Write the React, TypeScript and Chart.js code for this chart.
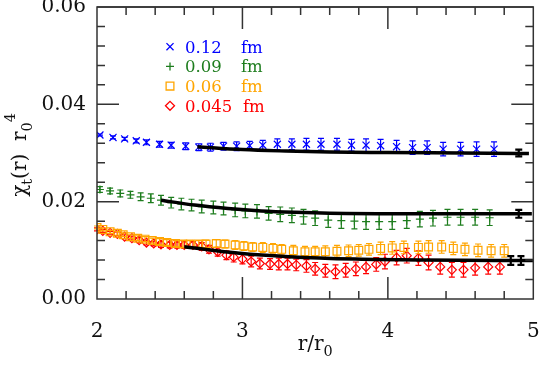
import React, { useEffect, useRef } from 'react';
import { Chart, registerables } from 'chart.js';

Chart.register(...registerables);

// ---------- data ----------
const blueX = [2.02, 2.11, 2.19, 2.27, 2.34, 2.43, 2.51, 2.61, 2.70, 2.78, 2.87, 2.96, 3.05, 3.14, 3.24, 3.34, 3.44, 3.54, 3.65, 3.75, 3.85, 3.95, 4.06, 4.17, 4.27, 4.38, 4.50, 4.61, 4.73];
const blueY = [0.0337, 0.0332, 0.0329, 0.0325, 0.0322, 0.0318, 0.0316, 0.0314, 0.0312, 0.0312, 0.0314, 0.0314, 0.0315, 0.0316, 0.0318, 0.0318, 0.0318, 0.0318, 0.0318, 0.0316, 0.0316, 0.0315, 0.0313, 0.0311, 0.0311, 0.0308, 0.0308, 0.0308, 0.0308];
const blueErr = [0.0002, 0.0003, 0.0003, 0.0004, 0.0005, 0.0006, 0.0006, 0.0007, 0.0007, 0.0008, 0.0008, 0.0009, 0.0009, 0.0010, 0.0011, 0.0011, 0.0012, 0.0012, 0.0012, 0.0012, 0.0013, 0.0013, 0.0013, 0.0014, 0.0014, 0.0014, 0.0014, 0.0015, 0.0015];

const greenX = [2.02, 2.09, 2.16, 2.23, 2.30, 2.37, 2.44, 2.51, 2.58, 2.65, 2.72, 2.80, 2.87, 2.95, 3.02, 3.10, 3.18, 3.26, 3.34, 3.42, 3.50, 3.59, 3.68, 3.77, 3.85, 3.94, 4.03, 4.13, 4.22, 4.31, 4.41, 4.50, 4.60, 4.70];
const greenY = [0.0225, 0.0222, 0.0217, 0.0214, 0.0210, 0.0207, 0.0203, 0.0198, 0.0195, 0.0193, 0.0190, 0.0188, 0.0186, 0.0183, 0.0181, 0.0180, 0.0176, 0.0174, 0.0172, 0.0169, 0.0166, 0.0162, 0.0161, 0.0160, 0.0159, 0.0159, 0.0159, 0.0161, 0.0164, 0.0166, 0.0168, 0.0168, 0.0168, 0.0167];
const greenErr = [0.0006, 0.0006, 0.0007, 0.0007, 0.0008, 0.0009, 0.0010, 0.0011, 0.0012, 0.0012, 0.0013, 0.0013, 0.0013, 0.0014, 0.0014, 0.0014, 0.0014, 0.0015, 0.0015, 0.0015, 0.0015, 0.0015, 0.0016, 0.0016, 0.0016, 0.0016, 0.0016, 0.0016, 0.0016, 0.0016, 0.0016, 0.0016, 0.0016, 0.0016];

const orangeX = [2.00, 2.04, 2.09, 2.14, 2.18, 2.23, 2.28, 2.33, 2.38, 2.43, 2.48, 2.54, 2.59, 2.64, 2.70, 2.75, 2.82, 2.88, 2.95, 3.01, 3.07, 3.14, 3.21, 3.27, 3.35, 3.43, 3.50, 3.57, 3.65, 3.73, 3.80, 3.87, 3.95, 4.03, 4.11, 4.21, 4.28, 4.37, 4.45, 4.53, 4.62, 4.71, 4.80];
const orangeY = [0.0147, 0.0143, 0.0138, 0.0135, 0.0132, 0.0128, 0.0125, 0.0123, 0.0120, 0.0118, 0.0116, 0.0114, 0.0113, 0.0113, 0.0113, 0.0113, 0.0114, 0.0113, 0.0111, 0.0109, 0.0107, 0.0106, 0.0104, 0.0102, 0.0099, 0.0097, 0.0097, 0.0097, 0.0098, 0.0099, 0.0100, 0.0102, 0.0104, 0.0105, 0.0106, 0.0106, 0.0107, 0.0107, 0.0104, 0.0102, 0.0100, 0.0099, 0.0099];
const orangeErr = [0.0003, 0.0003, 0.0003, 0.0004, 0.0004, 0.0004, 0.0005, 0.0005, 0.0005, 0.0006, 0.0006, 0.0006, 0.0007, 0.0007, 0.0007, 0.0008, 0.0008, 0.0008, 0.0009, 0.0009, 0.0009, 0.0010, 0.0010, 0.0010, 0.0011, 0.0011, 0.0011, 0.0012, 0.0012, 0.0012, 0.0012, 0.0012, 0.0013, 0.0013, 0.0013, 0.0013, 0.0013, 0.0013, 0.0013, 0.0013, 0.0013, 0.0013, 0.0013];

const redX = [2.00, 2.04, 2.09, 2.14, 2.19, 2.24, 2.29, 2.34, 2.39, 2.44, 2.50, 2.55, 2.60, 2.66, 2.72, 2.77, 2.83, 2.89, 2.94, 3.00, 3.06, 3.12, 3.19, 3.25, 3.31, 3.37, 3.44, 3.50, 3.57, 3.64, 3.71, 3.78, 3.85, 3.92, 3.98, 4.06, 4.13, 4.21, 4.28, 4.36, 4.44, 4.52, 4.60, 4.69, 4.77];
const redY = [0.0143, 0.0140, 0.0136, 0.0134, 0.0128, 0.0125, 0.0121, 0.0116, 0.0114, 0.0112, 0.0111, 0.0111, 0.0111, 0.0111, 0.0108, 0.0102, 0.0097, 0.0090, 0.0086, 0.0082, 0.0077, 0.0073, 0.0072, 0.0072, 0.0072, 0.0070, 0.0068, 0.0062, 0.0058, 0.0056, 0.0059, 0.0062, 0.0066, 0.0071, 0.0077, 0.0085, 0.0089, 0.0084, 0.0075, 0.0066, 0.0060, 0.0060, 0.0064, 0.0066, 0.0066];
const redErr = [0.0003, 0.0003, 0.0003, 0.0004, 0.0004, 0.0004, 0.0005, 0.0005, 0.0005, 0.0006, 0.0006, 0.0006, 0.0007, 0.0007, 0.0008, 0.0008, 0.0009, 0.0009, 0.0010, 0.0010, 0.0011, 0.0011, 0.0011, 0.0012, 0.0012, 0.0012, 0.0013, 0.0013, 0.0013, 0.0014, 0.0014, 0.0014, 0.0014, 0.0014, 0.0015, 0.0015, 0.0015, 0.0015, 0.0015, 0.0015, 0.0015, 0.0015, 0.0015, 0.0015, 0.0015];

// fit curves (black)
const fitBlueX = [2.69, 3.0, 3.3, 3.6, 4.0, 4.5, 4.97];
const fitBlueY = [0.0313, 0.0307, 0.0304, 0.0302, 0.0301, 0.0300, 0.0299];
const fitGreenX = [2.44, 2.67, 2.90, 3.13, 3.36, 3.6, 4.2, 4.99];
const fitGreenY = [0.0203, 0.0193, 0.0186, 0.0181, 0.0178, 0.0176, 0.0175, 0.0175];
const fitRedX = [2.60, 2.98, 3.32, 3.78, 4.24, 5.0];
const fitRedY = [0.01075, 0.0094, 0.0087, 0.0082, 0.0080, 0.0079];

// extrapolated values with errors (black bars)
const extrapX = [4.90, 4.90, 4.845, 4.915];
const extrapY = [0.0300, 0.0175, 0.0079, 0.0079];
const extrapErr = [0.0007, 0.0008, 0.0009, 0.0009];

// legend / axes text
const seriesLabels = ['0.12', '0.09', '0.06', '0.045'];
const unitLabel = 'fm';
const xTicks = [2, 3, 4, 5];
const yTicks = [0, 0.02, 0.04, 0.06];
const xMinorStep = 0.2;
const yMinorStep = 0.004;

const BLUE = '#0000ff';
const GREEN = '#1e7d1e';
const ORANGE = '#ffa500';
const RED = '#ff0000';
const SERIF = "'DejaVu Serif', serif";

const zip = (xs: number[], ys: number[]) => xs.map((x, i) => ({ x, y: ys[i] }));

const errorBarPlugin = {
  id: 'errorBars',
  afterDatasetDraw(chart: any, args: any) {
    const ds = chart.data.datasets[args.index];
    if (!ds.errors) return;
    const ys = chart.scales.y;
    const ctx = chart.ctx;
    ctx.save();
    ctx.strokeStyle = ds.errorColor || ds.borderColor;
    ctx.lineWidth = ds.errorWidth || 1.2;
    const cap = ds.capHalf || 3;
    args.meta.data.forEach((el: any, i: number) => {
      const e = ds.errors[i];
      if (!e) return;
      const v = ds.data[i].y;
      const x = el.x;
      const y1 = ys.getPixelForValue(v - e);
      const y2 = ys.getPixelForValue(v + e);
      ctx.beginPath();
      ctx.moveTo(x, y1); ctx.lineTo(x, y2);
      ctx.moveTo(x - cap, y1); ctx.lineTo(x + cap, y1);
      ctx.moveTo(x - cap, y2); ctx.lineTo(x + cap, y2);
      ctx.stroke();
    });
    ctx.restore();
  },
};

const framePlugin = {
  id: 'frameTicks',
  afterDraw(chart: any) {
    const ctx = chart.ctx;
    const a = chart.chartArea;
    ctx.save();
    try {
      ctx.strokeStyle = '#333';
      ctx.lineWidth = 1.5;
      ctx.beginPath(); ctx.moveTo(a.left, a.top); ctx.lineTo(a.right, a.top); ctx.stroke();
      ctx.strokeRect(a.left, a.top, a.right - a.left, a.bottom - a.top);
      const xs = chart.scales.x, ys = chart.scales.y;
      const xN = Math.round((xs.max - xs.min) / xMinorStep);
      for (let i = 1; i < xN; i++) {
        const v = xs.min + i * xMinorStep;
        const px = xs.getPixelForValue(v);
        const major = xTicks.some((t) => Math.abs(t - v) < 1e-6);
        const len = major ? 22 : 8;
        ctx.beginPath();
        ctx.moveTo(px, a.bottom); ctx.lineTo(px, a.bottom - len);
        ctx.moveTo(px, a.top); ctx.lineTo(px, a.top + len);
        ctx.stroke();
      }
      const yN = Math.round((ys.max - ys.min) / yMinorStep);
      for (let i = 1; i < yN; i++) {
        const v = ys.min + i * yMinorStep;
        const py = ys.getPixelForValue(v);
        const major = yTicks.some((t) => Math.abs(t - v) < 1e-6);
        const len = major ? 22 : 8;
        ctx.beginPath();
        ctx.moveTo(a.left, py); ctx.lineTo(a.left + len, py);
        ctx.moveTo(a.right, py); ctx.lineTo(a.right - len, py);
        ctx.stroke();
      }
    } catch (e) {
      // ignore
    }
    ctx.restore();
  },
};

type Seg = { t: string; k?: 'sub' | 'sup' };
function drawRich(ctx: CanvasRenderingContext2D, segs: Seg[], cx: number, baseY: number, size: number) {
  const fontFor = (s: Seg) => `${s.k ? size * 0.72 : size}px ${SERIF}`;
  const widths = segs.map((s) => { ctx.font = fontFor(s); return ctx.measureText(s.t).width; });
  const total = widths.reduce((a, b) => a + b, 0);
  let x = cx - total / 2;
  ctx.textAlign = 'left';
  ctx.textBaseline = 'alphabetic';
  segs.forEach((s, i) => {
    ctx.font = fontFor(s);
    const dy = s.k === 'sub' ? size * 0.28 : s.k === 'sup' ? -size * 0.55 : 0;
    ctx.fillText(s.t, x, baseY + dy);
    x += widths[i];
  });
}

function marker(ctx: CanvasRenderingContext2D, ps: string, r: number, x: number, y: number) {
  ctx.beginPath();
  if (ps === 'crossRot') {
    const d = r * Math.SQRT1_2;
    ctx.moveTo(x - d, y - d); ctx.lineTo(x + d, y + d);
    ctx.moveTo(x - d, y + d); ctx.lineTo(x + d, y - d);
  } else if (ps === 'cross') {
    ctx.moveTo(x - r, y); ctx.lineTo(x + r, y);
    ctx.moveTo(x, y - r); ctx.lineTo(x, y + r);
  } else if (ps === 'rect') {
    const s = r * Math.SQRT1_2;
    ctx.rect(x - s, y - s, 2 * s, 2 * s);
  } else {
    ctx.moveTo(x - r, y); ctx.lineTo(x, y - r); ctx.lineTo(x + r, y); ctx.lineTo(x, y + r); ctx.closePath();
  }
  ctx.stroke();
}

const textPlugin = {
  id: 'texts',
  afterDraw(chart: any) {
    const { ctx, chartArea: a } = chart;
    ctx.save();
    ctx.fillStyle = '#111';
    drawRich(ctx, [{ t: 'r' }, { t: '/' }, { t: 'r' }, { t: '0', k: 'sub' }], (a.left + a.right) / 2, 350, 20);
    ctx.save();
    ctx.translate(26, 155);
    ctx.rotate(-Math.PI / 2);
    drawRich(ctx, [{ t: 'χ' }, { t: 't', k: 'sub' }, { t: '(r)  r' }, { t: '0', k: 'sub' }, { t: '4', k: 'sup' }], 0, 0, 20);
    ctx.restore();
    const styles = [
      { c: BLUE, ps: 'crossRot', r: 5 },
      { c: GREEN, ps: 'cross', r: 4 },
      { c: ORANGE, ps: 'rect', r: 5.5 },
      { c: RED, ps: 'rectRot', r: 4.5 },
    ];
    const baseY0 = 52.7;
    const step = 19.7;
    seriesLabels.forEach((lab, i) => {
      const by = baseY0 + i * step;
      const st = styles[i];
      ctx.strokeStyle = st.c;
      ctx.lineWidth = 1.3;
      marker(ctx, st.ps, st.r, 170, by - 6);
      ctx.fillStyle = st.c;
      ctx.font = `16.5px ${SERIF}`;
      ctx.textAlign = 'left';
      ctx.textBaseline = 'alphabetic';
      ctx.fillText(lab, 185, by);
      ctx.fillText(unitLabel, i === 3 ? 243 : 241, by);
    });
    ctx.restore();
  },
};

export default function App() {
  const ref = useRef<HTMLCanvasElement | null>(null);
  useEffect(() => {
    if (!ref.current) return;
    const dataDs = (label: string, xs: number[], ys: number[], errs: number[], color: string, ps: string, r: number) => ({
      label,
      data: zip(xs, ys),
      errors: errs,
      borderColor: color,
      backgroundColor: 'rgba(0,0,0,0)',
      pointStyle: ps,
      pointRadius: r,
      pointBorderWidth: 1.2,
      showLine: false,
      capHalf: 3,
      errorWidth: 1.2,
      order: 1,
    });
    const fitDs = (xs: number[], ys: number[]) => ({
      type: 'line' as const,
      data: zip(xs, ys),
      borderColor: '#000',
      borderWidth: 3.5,
      pointRadius: 0,
      fill: false,
      cubicInterpolationMode: 'monotone',
      order: 0,
    });
    const chart = new Chart(ref.current, {
      type: 'scatter',
      data: {
        datasets: [
          dataDs('0.12 fm', blueX, blueY, blueErr, BLUE, 'crossRot', 5),
          dataDs('0.09 fm', greenX, greenY, greenErr, GREEN, 'cross', 4),
          dataDs('0.06 fm', orangeX, orangeY, orangeErr, ORANGE, 'rect', 5.5),
          dataDs('0.045 fm', redX, redY, redErr, RED, 'rectRot', 4.5),
          fitDs(fitBlueX, fitBlueY),
          fitDs(fitGreenX, fitGreenY),
          fitDs(fitRedX, fitRedY),
          {
            label: 'extrap',
            data: zip(extrapX, extrapY),
            errors: extrapErr,
            borderColor: '#000',
            pointRadius: 0,
            showLine: false,
            capHalf: 3.5,
            errorWidth: 2.2,
            order: 0,
          },
        ] as any,
      },
      options: {
        animation: false,
        responsive: false,
        devicePixelRatio: 1,
        layout: { padding: { top: 7, right: 6, left: 0, bottom: 0 } },
        plugins: { legend: { display: false }, tooltip: { enabled: false } },
        scales: {
          x: {
            type: 'linear',
            min: 2,
            max: 5,
            grid: { display: false, drawTicks: false },
            border: { display: false },
            ticks: {
              stepSize: 1,
              padding: 21,
              color: '#111',
              font: { family: SERIF, size: 20 },
              callback: (v: any) => (xTicks.includes(Number(v)) ? String(v) : ''),
            },
            afterFit: (s: any) => { s.height = 68; s.paddingLeft = 0; s.paddingRight = 0; },
          },
          y: {
            type: 'linear',
            min: 0,
            max: 0.06,
            grid: { display: false, drawTicks: false },
            border: { display: false },
            ticks: {
              stepSize: 0.02,
              padding: 11,
              color: '#111',
              font: { family: SERIF, size: 20 },
              callback: (v: any) => Number(v).toFixed(2),
            },
            afterFit: (s: any) => { s.width = 97; s.paddingTop = 0; s.paddingBottom = 0; },
          },
        },
      } as any,
      plugins: [errorBarPlugin, framePlugin, textPlugin],
    });
    return () => chart.destroy();
  }, []);
  return (
    <div style={{ position: 'fixed', left: 0, top: 0, width: 540, height: 367, background: '#fff' }}>
      <canvas ref={ref} width={540} height={367} />
    </div>
  );
}
